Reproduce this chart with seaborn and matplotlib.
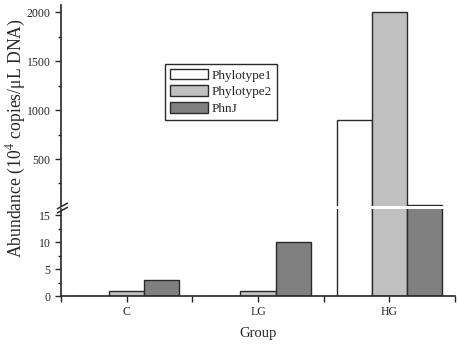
import pandas as pd
import seaborn as sns
import matplotlib.pyplot as plt
from matplotlib.ticker import FixedLocator

# Values (10^4 copies/uL DNA)
groups = ["C", "LG", "HG"]
phylotype1 = [0, 0, 900]
phylotype2 = [1, 1, 2000]
phnj = [3, 10, 30]
genes = ["Phylotype1", "Phylotype2", "PhnJ"]
colors = ["#ffffff", "#c0c0c0", "#808080"]

df = pd.DataFrame({
    "Group": groups * 3,
    "Abundance": phylotype1 + phylotype2 + phnj,
    "Gene": [g for g in genes for _ in groups],
})

sns.set_style("ticks")
plt.rcParams["font.family"] = ["Liberation Serif", "DejaVu Serif"]
plt.rcParams["mathtext.fontset"] = "stix"

fig = plt.figure(figsize=(4.59, 3.45), dpi=100)
ax_lo = fig.add_axes([0.1329, 0.142, 0.8584, 0.252])
ax_hi = fig.add_axes([0.1329, 0.403, 0.8584, 0.5826])

for ax in (ax_lo, ax_hi):
    sns.barplot(data=df, x="Group", y="Abundance", hue="Gene", palette=colors,
                edgecolor="#2a2a2a", linewidth=1.0, width=0.8, ax=ax,
                legend=(ax is ax_hi), saturation=1)
    ax.set_xlim(-0.5, 2.5)
    ax.set_xlabel("")
    ax.set_ylabel("")
    for s in ["top", "right"]:
        ax.spines[s].set_visible(False)
    ax.spines["left"].set_linewidth(1.2)
    ax.spines["bottom"].set_linewidth(1.2)
    ax.tick_params(axis="y", labelsize=8.5, length=4, width=1, direction="out")
    ax.tick_params(axis="y", which="minor", length=2.5, width=1)

ax_lo.set_ylim(0, 16.1)
ax_lo.yaxis.set_major_locator(FixedLocator([0, 5, 10, 15]))
ax_lo.yaxis.set_minor_locator(FixedLocator([2.5, 7.5, 12.5]))
ax_lo.xaxis.set_minor_locator(FixedLocator([-0.5, 0.5, 1.5, 2.5]))
ax_lo.tick_params(axis="x", labelsize=8.5, length=4, width=1)
ax_lo.tick_params(axis="x", which="minor", length=4, width=1)
ax_lo.set_xlabel("Group", fontsize=10.5, labelpad=6)

ax_hi.set_ylim(20, 2075)
ax_hi.yaxis.set_major_locator(FixedLocator([500, 1000, 1500, 2000]))
ax_hi.yaxis.set_minor_locator(FixedLocator([250, 750, 1250, 1750]))
ax_hi.spines["bottom"].set_visible(False)
ax_hi.tick_params(axis="x", bottom=False, labelbottom=False)

leg = ax_hi.legend(loc="upper left", bbox_to_anchor=(0.264, 0.706),
                   borderaxespad=0, fontsize=9.5, fancybox=False,
                   edgecolor="#2a2a2a", framealpha=1, handlelength=2.9,
                   handleheight=0.85, labelspacing=0.3, handletextpad=0.3,
                   borderpad=0.35)
leg.get_frame().set_linewidth(1.0)

# break marks on the y axis
for yb in (0.391, 0.403):
    fig.add_artist(plt.Line2D([0.125, 0.147], [yb - 0.008, yb + 0.008],
                              transform=fig.transFigure, color="#2a2a2a", lw=1.1))

fig.text(0.035, 0.60, r"Abundance (10$^4$ copies/μL DNA)", rotation=90,
         ha="center", va="center", fontsize=12.7)

plt.savefig("out.png", dpi=100)
